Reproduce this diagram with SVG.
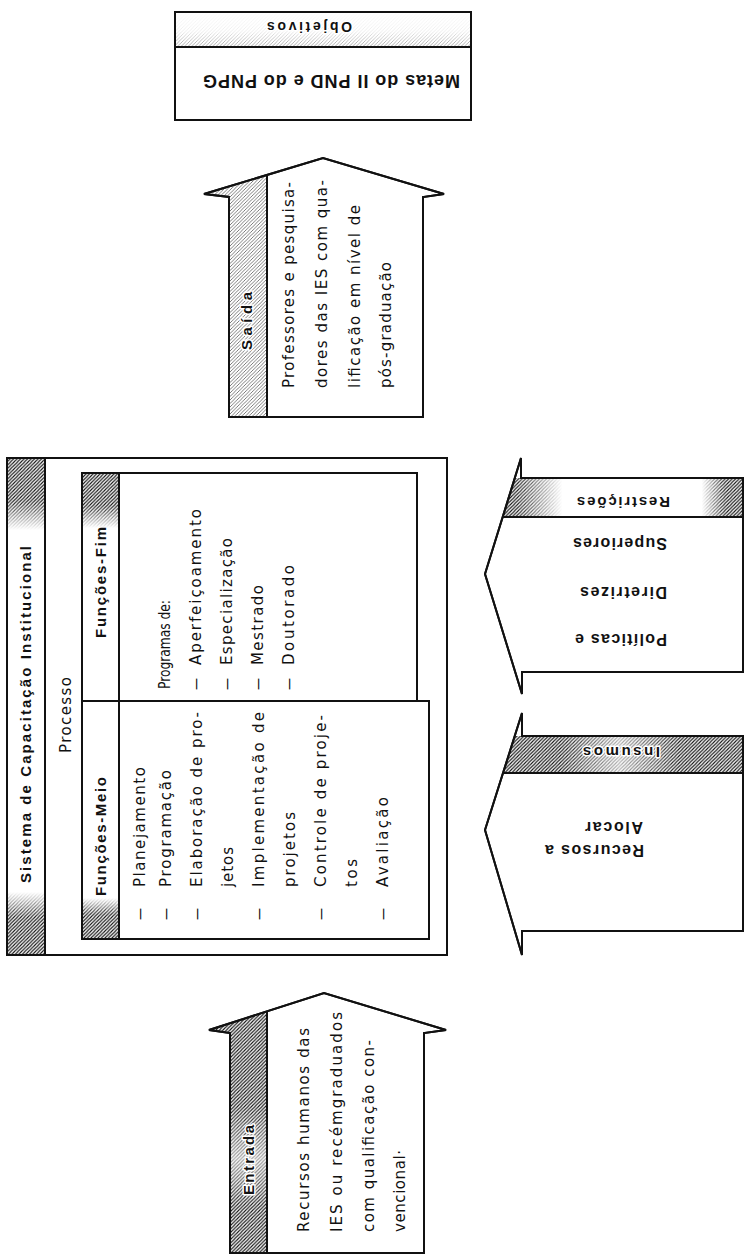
<svg xmlns="http://www.w3.org/2000/svg" width="745" height="1256" viewBox="0 0 745 1256">
<style>
  .ln{fill:none;stroke:#111;stroke-width:2}
  .bx{fill:#fff;stroke:#111;stroke-width:2}
  text{font-family:"Liberation Sans",Arial,sans-serif;fill:#111}
  .t{font-family:"DejaVu Sans","Liberation Sans",sans-serif;font-size:15px}
  .b{font-size:15px;font-weight:bold}
  .ub{font-size:16px;font-weight:bold}
  .halo{paint-order:stroke;stroke:#fff;stroke-width:3;stroke-linejoin:round}
</style>
<defs>
  <!-- diagonal hatching used on the header strips -->
  <pattern id="hatch" width="3.5" height="3.5" patternUnits="userSpaceOnUse">
    <path d="M-1,1 l2,-2 M0,3.5 l3.5,-3.5 M2.5,4.5 l2,-2" stroke="#111" stroke-width="1.1"/>
  </pattern>
  <pattern id="hatchLight" width="3.5" height="3.5" patternUnits="userSpaceOnUse">
    <path d="M-1,1 l2,-2 M0,3.5 l3.5,-3.5 M2.5,4.5 l2,-2" stroke="#444" stroke-width="0.7"/>
  </pattern>
  <linearGradient id="gDown" x1="0" y1="0" x2="0" y2="1">
    <stop offset="0" stop-color="#fff"/><stop offset="0.6" stop-color="#fff"/><stop offset="1" stop-color="#000"/>
  </linearGradient>
  <linearGradient id="gUp" x1="0" y1="1" x2="0" y2="0">
    <stop offset="0" stop-color="#fff"/><stop offset="0.6" stop-color="#fff"/><stop offset="1" stop-color="#000"/>
  </linearGradient>
  <linearGradient id="gEnds" x1="0" y1="0" x2="1" y2="0">
    <stop offset="0" stop-color="#fff"/><stop offset="0.12" stop-color="#fff"/><stop offset="0.3" stop-color="#000"/>
    <stop offset="0.84" stop-color="#000"/><stop offset="0.93" stop-color="#fff"/><stop offset="1" stop-color="#fff"/>
  </linearGradient>
  <linearGradient id="gMid" x1="0" y1="0" x2="1" y2="0">
    <stop offset="0" stop-color="#fff"/><stop offset="0.3" stop-color="#fff"/><stop offset="0.52" stop-color="#555"/>
    <stop offset="0.75" stop-color="#fff"/><stop offset="1" stop-color="#fff"/>
  </linearGradient>
  <linearGradient id="gMidV" x1="0" y1="0" x2="0" y2="1">
    <stop offset="0" stop-color="#fff"/><stop offset="0.45" stop-color="#fff"/><stop offset="0.64" stop-color="#666"/>
    <stop offset="0.82" stop-color="#fff"/><stop offset="1" stop-color="#fff"/>
  </linearGradient>
  <linearGradient id="gBottom" x1="0" y1="0" x2="0" y2="1">
    <stop offset="0" stop-color="#000"/><stop offset="0.55" stop-color="#222"/><stop offset="1" stop-color="#bbb"/>
  </linearGradient>

  <mask id="mSysTop" maskUnits="userSpaceOnUse" x="0" y="0" width="745" height="1256"><rect x="7" y="458" width="38" height="72" fill="url(#gDown)"/></mask>
  <mask id="mSysBot" maskUnits="userSpaceOnUse" x="0" y="0" width="745" height="1256"><rect x="7" y="892" width="38" height="63" fill="url(#gUp)"/></mask>
  <mask id="mFimTop" maskUnits="userSpaceOnUse" x="0" y="0" width="745" height="1256"><rect x="82" y="473" width="37" height="55" fill="url(#gDown)"/></mask>
  <mask id="mMeioBot" maskUnits="userSpaceOnUse" x="0" y="0" width="745" height="1256"><rect x="82" y="898" width="37" height="41" fill="url(#gUp)"/></mask>
  <mask id="mRes" maskUnits="userSpaceOnUse" x="0" y="0" width="745" height="1256"><rect x="485" y="478" width="258" height="39" fill="url(#gEnds)"/></mask>
  <mask id="mIns" maskUnits="userSpaceOnUse" x="0" y="0" width="745" height="1256"><rect x="485" y="736" width="258" height="37" fill="url(#gMid)"/></mask>
  <mask id="mEnt" maskUnits="userSpaceOnUse" x="0" y="0" width="745" height="1256"><rect x="205" y="990" width="62" height="263" fill="url(#gMidV)"/></mask>
  <mask id="mObj" maskUnits="userSpaceOnUse" x="0" y="0" width="745" height="1256"><rect x="175" y="12" width="296" height="35" fill="url(#gBottom)"/></mask>

  <clipPath id="cSaida"><path d="M229,417 L229,197 L204,194 L323,158 L444,194 L423,197 L423,417 Z"/></clipPath>
  <clipPath id="cEntrada"><path d="M230,1253 L230,1033 L209,1030 L324,993 L446,1030 L424,1033 L424,1253 Z"/></clipPath>
  <clipPath id="cRes"><path d="M743,478 L521,478 L521,458 L485,574 L522,694 L522,672 L743,672 Z"/></clipPath>
  <clipPath id="cIns"><path d="M743,736 L522,736 L522,713 L485,830 L522,955 L522,931 L743,931 Z"/></clipPath>
</defs>

<rect width="745" height="1256" fill="#fff"/>

<!-- Objetivos -->
<g id="objetivos">
  <rect class="bx" x="175" y="12" width="296" height="108"/>
  <rect x="176" y="13" width="294" height="34" fill="url(#hatchLight)" mask="url(#mObj)"/>
  <line class="ln" x1="175" y1="47" x2="471" y2="47"/>
  <text class="b halo" style="font-size:14px" transform="translate(352,22) rotate(180)" textLength="85" lengthAdjust="spacing">Objetivos</text>
  <text class="ub" style="font-size:18px" transform="translate(460,75) rotate(180)" textLength="257" lengthAdjust="spacing">Metas do II PND e do PNPG</text>
</g>

<!-- Saída -->
<g id="saida">
  <path class="bx" d="M229,417 L229,197 L204,194 L323,158 L444,194 L423,197 L423,417 Z"/>
  <rect x="200" y="150" width="67" height="267" fill="url(#hatchLight)" clip-path="url(#cSaida)"/>
  <path class="ln" d="M229,417 L229,197 L204,194 L323,158 L444,194 L423,197 L423,417 Z"/>
  <line class="ln" x1="267" y1="176" x2="267" y2="417"/>
  <text class="b halo" transform="translate(252,350) rotate(-90)" textLength="58" lengthAdjust="spacing">Saída</text>
  <text class="t" transform="translate(294,388) rotate(-90)" textLength="206" lengthAdjust="spacing">Professores e pesquisa-</text>
  <text class="t" transform="translate(327,388) rotate(-90)" textLength="208" lengthAdjust="spacing">dores das IES com qua-</text>
  <text class="t" transform="translate(360,388) rotate(-90)" textLength="183" lengthAdjust="spacing">lificação em nível de</text>
  <text class="t" transform="translate(391,388) rotate(-90)" textLength="126" lengthAdjust="spacing">pós-graduação</text>
</g>

<!-- Sistema de Capacitação Institucional -->
<g id="sistema">
  <rect class="bx" x="7" y="458" width="440" height="497"/>
  <rect x="8" y="459" width="37" height="71" fill="url(#hatch)" mask="url(#mSysTop)"/>
  <rect x="8" y="892" width="37" height="62" fill="url(#hatch)" mask="url(#mSysBot)"/>
  <line class="ln" x1="45" y1="458" x2="45" y2="955"/>
  <text class="b" transform="translate(31,883) rotate(-90)" textLength="337" lengthAdjust="spacing">Sistema de Capacitação Institucional</text>
  <text class="t" transform="translate(71,753) rotate(-90)" textLength="76" lengthAdjust="spacing">Processo</text>
</g>

<!-- Funções-Fim -->
<g id="funcoes-fim">
  <rect class="bx" x="82" y="473" width="335" height="228"/>
  <rect x="83" y="474" width="36" height="54" fill="url(#hatch)" mask="url(#mFimTop)"/>
  <line class="ln" x1="119" y1="473" x2="119" y2="701"/>
  <text class="b" transform="translate(106,638) rotate(-90)" textLength="111" lengthAdjust="spacing">Funções-Fim</text>
  <text class="t" transform="translate(170,689) rotate(-90)" textLength="89" lengthAdjust="spacingAndGlyphs">Programas de:</text>
  <text class="t" transform="translate(201,690) rotate(-90)"><tspan x="0" textLength="12" lengthAdjust="spacingAndGlyphs">—</tspan><tspan x="25" textLength="156" lengthAdjust="spacing">Aperfeiçoamento</tspan></text>
  <text class="t" transform="translate(232,690) rotate(-90)"><tspan x="0" textLength="12" lengthAdjust="spacingAndGlyphs">—</tspan><tspan x="25" textLength="127" lengthAdjust="spacing">Especialização</tspan></text>
  <text class="t" transform="translate(263,690) rotate(-90)"><tspan x="0" textLength="12" lengthAdjust="spacingAndGlyphs">—</tspan><tspan x="25" textLength="80" lengthAdjust="spacing">Mestrado</tspan></text>
  <text class="t" transform="translate(294,690) rotate(-90)"><tspan x="0" textLength="12" lengthAdjust="spacingAndGlyphs">—</tspan><tspan x="25" textLength="100" lengthAdjust="spacing">Doutorado</tspan></text>
</g>

<!-- Funções-Meio -->
<g id="funcoes-meio">
  <rect class="bx" x="82" y="701" width="347" height="238"/>
  <rect x="83" y="898" width="36" height="40" fill="url(#hatch)" mask="url(#mMeioBot)"/>
  <line class="ln" x1="119" y1="701" x2="119" y2="939"/>
  <text class="b" transform="translate(106,896) rotate(-90)" textLength="119" lengthAdjust="spacing">Funções-Meio</text>
  <text class="t" transform="translate(145,920) rotate(-90)"><tspan x="0" textLength="12" lengthAdjust="spacingAndGlyphs">—</tspan><tspan x="33" textLength="120" lengthAdjust="spacing">Planejamento</tspan></text>
  <text class="t" transform="translate(171,920) rotate(-90)"><tspan x="0" textLength="12" lengthAdjust="spacingAndGlyphs">—</tspan><tspan x="33" textLength="117" lengthAdjust="spacing">Programação</tspan></text>
  <text class="t" transform="translate(202,920) rotate(-90)"><tspan x="0" textLength="12" lengthAdjust="spacingAndGlyphs">—</tspan><tspan x="33" textLength="175" lengthAdjust="spacing">Elaboração de pro-</tspan></text>
  <text class="t" transform="translate(233,887) rotate(-90)" textLength="40" lengthAdjust="spacing">jetos</text>
  <text class="t" transform="translate(264,920) rotate(-90)"><tspan x="0" textLength="12" lengthAdjust="spacingAndGlyphs">—</tspan><tspan x="33" textLength="175" lengthAdjust="spacing">Implementação de</tspan></text>
  <text class="t" transform="translate(295,887) rotate(-90)" textLength="75" lengthAdjust="spacing">projetos</text>
  <text class="t" transform="translate(326,920) rotate(-90)"><tspan x="0" textLength="12" lengthAdjust="spacingAndGlyphs">—</tspan><tspan x="33" textLength="172" lengthAdjust="spacing">Controle de proje-</tspan></text>
  <text class="t" transform="translate(357,887) rotate(-90)" textLength="28" lengthAdjust="spacing">tos</text>
  <text class="t" transform="translate(388,920) rotate(-90)"><tspan x="0" textLength="12" lengthAdjust="spacingAndGlyphs">—</tspan><tspan x="33" textLength="90" lengthAdjust="spacing">Avaliação</tspan></text>
</g>

<!-- Restrições -->
<g id="restricoes">
  <path class="bx" d="M743,478 L521,478 L521,458 L485,574 L522,694 L522,672 L743,672 Z"/>
  <rect x="485" y="478" width="258" height="39" fill="url(#hatch)" mask="url(#mRes)" clip-path="url(#cRes)"/>
  <path class="ln" d="M743,478 L521,478 L521,458 L485,574 L522,694 L522,672 L743,672 Z"/>
  <line class="ln" x1="503" y1="517" x2="743" y2="517"/>
  <text class="b halo" transform="translate(670,497) rotate(180)" textLength="93" lengthAdjust="spacing">Restrições</text>
  <text class="ub" transform="translate(667,538) rotate(180)" textLength="94" lengthAdjust="spacing">Superiores</text>
  <text class="ub" transform="translate(667,587) rotate(180)" textLength="87" lengthAdjust="spacing">Diretrizes</text>
  <text class="ub" transform="translate(667,634) rotate(180)" textLength="92" lengthAdjust="spacing">Políticas e</text>
</g>

<!-- Insumos -->
<g id="insumos">
  <path class="bx" d="M743,736 L522,736 L522,713 L485,830 L522,955 L522,931 L743,931 Z"/>
  <rect x="485" y="736" width="258" height="37" fill="url(#hatch)" mask="url(#mIns)" clip-path="url(#cIns)"/>
  <path class="ln" d="M743,736 L522,736 L522,713 L485,830 L522,955 L522,931 L743,931 Z"/>
  <line class="ln" x1="504" y1="773" x2="743" y2="773"/>
  <text class="b halo" transform="translate(660,747) rotate(180)" textLength="77" lengthAdjust="spacing">Insumos</text>
  <text class="ub" transform="translate(643,822) rotate(180)" textLength="58" lengthAdjust="spacing">Alocar</text>
  <text class="ub" transform="translate(644,845) rotate(180)" textLength="99" lengthAdjust="spacing">Recursos a</text>
</g>

<!-- Entrada -->
<g id="entrada">
  <path class="bx" d="M230,1253 L230,1033 L209,1030 L324,993 L446,1030 L424,1033 L424,1253 Z"/>
  <rect x="205" y="990" width="62" height="263" fill="url(#hatch)" mask="url(#mEnt)" clip-path="url(#cEntrada)"/>
  <path class="ln" d="M230,1253 L230,1033 L209,1030 L324,993 L446,1030 L424,1033 L424,1253 Z"/>
  <line class="ln" x1="267" y1="1012" x2="267" y2="1253"/>
  <text class="b halo" transform="translate(254,1195) rotate(-90)" textLength="70" lengthAdjust="spacing">Entrada</text>
  <text class="t" transform="translate(309,1232) rotate(-90)" textLength="204" lengthAdjust="spacing">Recursos humanos das</text>
  <text class="t" transform="translate(342,1232) rotate(-90)" textLength="220" lengthAdjust="spacing">IES ou recémgraduados</text>
  <text class="t" transform="translate(374,1232) rotate(-90)" textLength="192" lengthAdjust="spacing">com qualificação con-</text>
  <text class="t" transform="translate(405,1232) rotate(-90)" textLength="82" lengthAdjust="spacing">vencional·</text>
</g>
</svg>
